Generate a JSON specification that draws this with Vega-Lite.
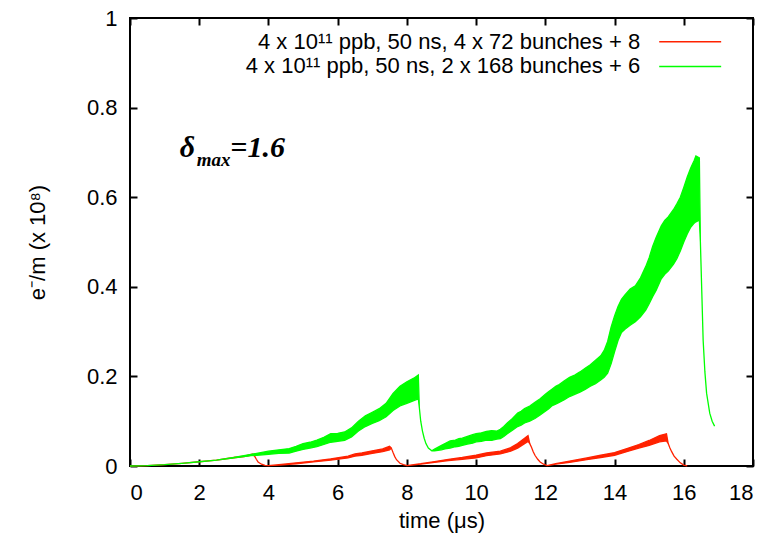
{
  "$schema": "https://vega.github.io/schema/vega-lite/v6.json",
  "width": 623,
  "height": 448,
  "autosize": {"type": "none"},
  "padding": {"left": 130, "top": 18, "right": 24, "bottom": 77},
  "background": "white",
  "config": {
    "view": {"stroke": "black", "strokeWidth": 2},
    "font": "Liberation Sans",
    "axis": {
      "domain": false,
      "grid": false,
      "tickColor": "black",
      "tickWidth": 2,
      "tickSize": -7,
      "labelFont": "Liberation Sans",
      "labelFontSize": 22,
      "labelColor": "black",
      "titleFont": "Liberation Sans",
      "titleFontSize": 22,
      "titleFontWeight": "normal",
      "titleColor": "black"
    }
  },
  "datasets": {
    "red": [
      {"t": 0, "lo": 0, "hi": 0},
      {"t": 0.5, "lo": 0.001, "hi": 0.001},
      {"t": 1, "lo": 0.003, "hi": 0.003},
      {"t": 1.5, "lo": 0.006, "hi": 0.006},
      {"t": 2, "lo": 0.0095, "hi": 0.0095},
      {"t": 2.5, "lo": 0.013, "hi": 0.013},
      {"t": 3, "lo": 0.018, "hi": 0.019},
      {"t": 3.3, "lo": 0.021, "hi": 0.022},
      {"t": 3.55, "lo": 0.025, "hi": 0.027},
      {"t": 3.6, "lo": 0.022, "hi": 0.022},
      {"t": 3.65, "lo": 0.015, "hi": 0.015},
      {"t": 3.7, "lo": 0.009, "hi": 0.009},
      {"t": 3.8, "lo": 0.004, "hi": 0.004},
      {"t": 3.9, "lo": 0.0015, "hi": 0.0015},
      {"t": 4.0, "lo": 0.001, "hi": 0.001},
      {"t": 4.3, "lo": 0.002, "hi": 0.003},
      {"t": 4.8, "lo": 0.005, "hi": 0.007},
      {"t": 5.3, "lo": 0.009, "hi": 0.011},
      {"t": 5.8, "lo": 0.013, "hi": 0.016},
      {"t": 6.3, "lo": 0.018, "hi": 0.022},
      {"t": 6.5, "lo": 0.022, "hi": 0.027},
      {"t": 6.7, "lo": 0.024, "hi": 0.029},
      {"t": 7.0, "lo": 0.028, "hi": 0.034},
      {"t": 7.3, "lo": 0.032, "hi": 0.038},
      {"t": 7.5, "lo": 0.036, "hi": 0.044},
      {"t": 7.55, "lo": 0.04, "hi": 0.04},
      {"t": 7.6, "lo": 0.03, "hi": 0.03},
      {"t": 7.65, "lo": 0.021, "hi": 0.021},
      {"t": 7.7, "lo": 0.014, "hi": 0.014},
      {"t": 7.8, "lo": 0.006, "hi": 0.006},
      {"t": 7.9, "lo": 0.003, "hi": 0.003},
      {"t": 8.0, "lo": 0.001, "hi": 0.001},
      {"t": 8.4, "lo": 0.004, "hi": 0.005},
      {"t": 8.8, "lo": 0.008, "hi": 0.01},
      {"t": 9.2, "lo": 0.012, "hi": 0.015},
      {"t": 9.6, "lo": 0.015, "hi": 0.019},
      {"t": 10.0, "lo": 0.018, "hi": 0.024},
      {"t": 10.3, "lo": 0.023, "hi": 0.029},
      {"t": 10.7, "lo": 0.027, "hi": 0.033},
      {"t": 11.0, "lo": 0.033, "hi": 0.041},
      {"t": 11.2, "lo": 0.04, "hi": 0.05},
      {"t": 11.4, "lo": 0.05, "hi": 0.062},
      {"t": 11.5, "lo": 0.055, "hi": 0.068},
      {"t": 11.55, "lo": 0.05, "hi": 0.05},
      {"t": 11.6, "lo": 0.042, "hi": 0.042},
      {"t": 11.65, "lo": 0.032, "hi": 0.032},
      {"t": 11.7, "lo": 0.024, "hi": 0.024},
      {"t": 11.78, "lo": 0.015, "hi": 0.015},
      {"t": 11.85, "lo": 0.009, "hi": 0.009},
      {"t": 11.95, "lo": 0.004, "hi": 0.004},
      {"t": 12.05, "lo": 0.001, "hi": 0.001},
      {"t": 12.3, "lo": 0.004, "hi": 0.005},
      {"t": 12.7, "lo": 0.008, "hi": 0.011},
      {"t": 13.2, "lo": 0.014, "hi": 0.018},
      {"t": 13.6, "lo": 0.019, "hi": 0.024},
      {"t": 14.0, "lo": 0.024, "hi": 0.03},
      {"t": 14.4, "lo": 0.033, "hi": 0.04},
      {"t": 14.7, "lo": 0.04, "hi": 0.048},
      {"t": 15.0, "lo": 0.046, "hi": 0.057},
      {"t": 15.3, "lo": 0.054, "hi": 0.068},
      {"t": 15.5, "lo": 0.056, "hi": 0.072},
      {"t": 15.55, "lo": 0.05, "hi": 0.05},
      {"t": 15.6, "lo": 0.04, "hi": 0.04},
      {"t": 15.65, "lo": 0.032, "hi": 0.032},
      {"t": 15.72, "lo": 0.022, "hi": 0.022},
      {"t": 15.8, "lo": 0.015, "hi": 0.015},
      {"t": 15.9, "lo": 0.007, "hi": 0.007},
      {"t": 16.0, "lo": 0.002, "hi": 0.002},
      {"t": 16.1, "lo": 0.0005, "hi": 0.0005}
    ],
    "green": [
      {"t": 0, "lo": 0, "hi": 0},
      {"t": 0.5, "lo": 0.001, "hi": 0.001},
      {"t": 1, "lo": 0.003, "hi": 0.003},
      {"t": 1.5, "lo": 0.006, "hi": 0.006},
      {"t": 2, "lo": 0.0095, "hi": 0.0095},
      {"t": 2.5, "lo": 0.013, "hi": 0.013},
      {"t": 3, "lo": 0.018, "hi": 0.019},
      {"t": 3.5, "lo": 0.023, "hi": 0.026},
      {"t": 4.0, "lo": 0.026, "hi": 0.033},
      {"t": 4.3, "lo": 0.028, "hi": 0.036},
      {"t": 4.6, "lo": 0.029, "hi": 0.039},
      {"t": 4.8, "lo": 0.033, "hi": 0.044},
      {"t": 5.0, "lo": 0.037, "hi": 0.05},
      {"t": 5.2, "lo": 0.04, "hi": 0.053},
      {"t": 5.4, "lo": 0.043, "hi": 0.058},
      {"t": 5.6, "lo": 0.048, "hi": 0.064},
      {"t": 5.8, "lo": 0.053, "hi": 0.072},
      {"t": 6.0, "lo": 0.055, "hi": 0.073},
      {"t": 6.2, "lo": 0.057, "hi": 0.076},
      {"t": 6.4, "lo": 0.065, "hi": 0.085},
      {"t": 6.6, "lo": 0.078, "hi": 0.1},
      {"t": 6.8, "lo": 0.088, "hi": 0.112},
      {"t": 7.0, "lo": 0.095, "hi": 0.12},
      {"t": 7.2, "lo": 0.101, "hi": 0.128},
      {"t": 7.4, "lo": 0.11, "hi": 0.14},
      {"t": 7.6, "lo": 0.124, "hi": 0.162},
      {"t": 7.8, "lo": 0.134, "hi": 0.178},
      {"t": 8.0, "lo": 0.14, "hi": 0.188},
      {"t": 8.2, "lo": 0.146, "hi": 0.196},
      {"t": 8.33, "lo": 0.15, "hi": 0.203},
      {"t": 8.36, "lo": 0.13, "hi": 0.13},
      {"t": 8.4, "lo": 0.1, "hi": 0.1},
      {"t": 8.45, "lo": 0.078, "hi": 0.078},
      {"t": 8.5, "lo": 0.062, "hi": 0.062},
      {"t": 8.55, "lo": 0.05, "hi": 0.05},
      {"t": 8.62, "lo": 0.04, "hi": 0.04},
      {"t": 8.72, "lo": 0.034, "hi": 0.034},
      {"t": 8.8, "lo": 0.034, "hi": 0.038},
      {"t": 9.0, "lo": 0.036, "hi": 0.046},
      {"t": 9.1, "lo": 0.038, "hi": 0.05},
      {"t": 9.25, "lo": 0.04, "hi": 0.056},
      {"t": 9.4, "lo": 0.043, "hi": 0.058},
      {"t": 9.5, "lo": 0.044, "hi": 0.061},
      {"t": 9.6, "lo": 0.046, "hi": 0.062},
      {"t": 9.75, "lo": 0.049, "hi": 0.066},
      {"t": 9.9, "lo": 0.051, "hi": 0.07},
      {"t": 10.0, "lo": 0.054, "hi": 0.072},
      {"t": 10.15, "lo": 0.055, "hi": 0.074},
      {"t": 10.3, "lo": 0.058, "hi": 0.077},
      {"t": 10.45, "lo": 0.057, "hi": 0.079},
      {"t": 10.6, "lo": 0.06, "hi": 0.078},
      {"t": 10.7, "lo": 0.061, "hi": 0.082},
      {"t": 10.8, "lo": 0.066, "hi": 0.088},
      {"t": 10.9, "lo": 0.072, "hi": 0.096},
      {"t": 11.05, "lo": 0.08, "hi": 0.106},
      {"t": 11.2, "lo": 0.088, "hi": 0.118},
      {"t": 11.3, "lo": 0.091, "hi": 0.122},
      {"t": 11.4, "lo": 0.096, "hi": 0.128},
      {"t": 11.55, "lo": 0.1, "hi": 0.134},
      {"t": 11.7, "lo": 0.106, "hi": 0.142},
      {"t": 11.85, "lo": 0.114, "hi": 0.15},
      {"t": 12.0, "lo": 0.122, "hi": 0.16},
      {"t": 12.1, "lo": 0.128, "hi": 0.166},
      {"t": 12.2, "lo": 0.135, "hi": 0.172},
      {"t": 12.3, "lo": 0.138, "hi": 0.178},
      {"t": 12.4, "lo": 0.142, "hi": 0.182},
      {"t": 12.55, "lo": 0.148, "hi": 0.19},
      {"t": 12.7, "lo": 0.155, "hi": 0.198},
      {"t": 12.85, "lo": 0.16, "hi": 0.203},
      {"t": 13.0, "lo": 0.165, "hi": 0.21},
      {"t": 13.15, "lo": 0.171, "hi": 0.218},
      {"t": 13.3, "lo": 0.178, "hi": 0.226},
      {"t": 13.45, "lo": 0.184, "hi": 0.236},
      {"t": 13.6, "lo": 0.192, "hi": 0.246},
      {"t": 13.7, "lo": 0.198, "hi": 0.258},
      {"t": 13.8, "lo": 0.207, "hi": 0.278},
      {"t": 13.9, "lo": 0.228, "hi": 0.31},
      {"t": 14.0, "lo": 0.255, "hi": 0.335},
      {"t": 14.1, "lo": 0.28, "hi": 0.356},
      {"t": 14.2, "lo": 0.298, "hi": 0.372},
      {"t": 14.3, "lo": 0.305, "hi": 0.382},
      {"t": 14.45, "lo": 0.314, "hi": 0.395},
      {"t": 14.6, "lo": 0.322, "hi": 0.402},
      {"t": 14.75, "lo": 0.333, "hi": 0.42},
      {"t": 14.9, "lo": 0.348, "hi": 0.445},
      {"t": 15.0, "lo": 0.362, "hi": 0.465},
      {"t": 15.1, "lo": 0.378, "hi": 0.49},
      {"t": 15.2, "lo": 0.392, "hi": 0.51},
      {"t": 15.35, "lo": 0.418, "hi": 0.536},
      {"t": 15.45, "lo": 0.428, "hi": 0.548},
      {"t": 15.55, "lo": 0.435, "hi": 0.556},
      {"t": 15.7, "lo": 0.45, "hi": 0.572},
      {"t": 15.8, "lo": 0.463, "hi": 0.585},
      {"t": 15.9, "lo": 0.48, "hi": 0.6},
      {"t": 16.0, "lo": 0.5, "hi": 0.622},
      {"t": 16.1, "lo": 0.518, "hi": 0.645},
      {"t": 16.2, "lo": 0.533, "hi": 0.665},
      {"t": 16.3, "lo": 0.542, "hi": 0.682},
      {"t": 16.35, "lo": 0.545, "hi": 0.692},
      {"t": 16.45, "lo": 0.549, "hi": 0.688},
      {"t": 16.48, "lo": 0.5, "hi": 0.5},
      {"t": 16.52, "lo": 0.39, "hi": 0.39},
      {"t": 16.56, "lo": 0.28, "hi": 0.28},
      {"t": 16.61, "lo": 0.21, "hi": 0.21},
      {"t": 16.66, "lo": 0.162, "hi": 0.162},
      {"t": 16.75, "lo": 0.118, "hi": 0.118},
      {"t": 16.82, "lo": 0.1, "hi": 0.1},
      {"t": 16.89, "lo": 0.089, "hi": 0.089}
    ],
    "one": [{}]
  },
  "resolve": {"axis": {"x": "independent", "y": "independent"}},
  "layer": [
    {
      "data": {"name": "red"},
      "mark": {"type": "area", "color": "#ff2200", "stroke": "#ff2200", "strokeWidth": 1.3},
      "encoding": {
        "x": {
          "field": "t", "type": "quantitative",
          "scale": {"domain": [0, 18], "nice": false},
          "axis": {"orient": "bottom", "values": [0, 2, 4, 6, 8, 10, 12, 14, 16, 18], "labelPadding": 23, "title": "time (μs)", "titlePadding": 7}
        },
        "y": {
          "field": "lo", "type": "quantitative",
          "scale": {"domain": [0, 1], "nice": false},
          "axis": {"orient": "left", "values": [0, 0.2, 0.4, 0.6, 0.8, 1], "format": "~g", "labelPadding": 20, "title": "e⁻/m (x 10⁸)", "titlePadding": 37}
        },
        "y2": {"field": "hi"}
      }
    },
    {
      "data": {"name": "green"},
      "mark": {"type": "area", "color": "#00ff00", "stroke": "#00ff00", "strokeWidth": 1.3},
      "encoding": {
        "x": {"field": "t", "type": "quantitative", "scale": {"domain": [0, 18], "nice": false}, "axis": null},
        "y": {"field": "lo", "type": "quantitative", "scale": {"domain": [0, 1], "nice": false}, "axis": null},
        "y2": {"field": "hi"}
      }
    },
    {
      "data": {"name": "red"},
      "mark": {"type": "point", "opacity": 0},
      "encoding": {
        "x": {
          "field": "t", "type": "quantitative", "scale": {"domain": [0, 18], "nice": false},
          "axis": {"orient": "top", "values": [0, 2, 4, 6, 8, 10, 12, 14, 16, 18], "labels": false, "title": null}
        },
        "y": {
          "field": "lo", "type": "quantitative", "scale": {"domain": [0, 1], "nice": false},
          "axis": {"orient": "right", "values": [0, 0.2, 0.4, 0.6, 0.8, 1], "labels": false, "title": null}
        }
      }
    },
    {
      "data": {"name": "one"},
      "mark": {"type": "text", "align": "right", "baseline": "middle", "fontSize": 22, "font": "Liberation Sans", "color": "black"},
      "encoding": {
        "x": {"datum": 14.74, "type": "quantitative", "axis": null},
        "y": {"datum": 0.947, "type": "quantitative", "axis": null},
        "text": {"value": "4 x 10¹¹ ppb, 50 ns, 4 x 72 bunches + 8"}
      }
    },
    {
      "data": {"name": "one"},
      "mark": {"type": "text", "align": "right", "baseline": "middle", "fontSize": 22, "font": "Liberation Sans", "color": "black"},
      "encoding": {
        "x": {"datum": 14.74, "type": "quantitative", "axis": null},
        "y": {"datum": 0.892, "type": "quantitative", "axis": null},
        "text": {"value": "4 x 10¹¹ ppb, 50 ns, 2 x 168 bunches + 6"}
      }
    },
    {
      "data": {"name": "one"},
      "mark": {"type": "rule", "color": "#ff2200", "strokeWidth": 1.5},
      "encoding": {
        "x": {"datum": 15.29, "type": "quantitative", "axis": null},
        "x2": {"datum": 17.08},
        "y": {"datum": 0.947, "type": "quantitative", "axis": null}
      }
    },
    {
      "data": {"name": "one"},
      "mark": {"type": "rule", "color": "#00ff00", "strokeWidth": 1.5},
      "encoding": {
        "x": {"datum": 15.29, "type": "quantitative", "axis": null},
        "x2": {"datum": 17.08},
        "y": {"datum": 0.892, "type": "quantitative", "axis": null}
      }
    },
    {
      "data": {"name": "one"},
      "mark": {"type": "text", "align": "left", "baseline": "alphabetic", "fontSize": 30, "font": "Liberation Serif", "fontWeight": "bold", "fontStyle": "italic", "color": "black"},
      "encoding": {
        "x": {"datum": 1.44, "type": "quantitative", "axis": null},
        "y": {"datum": 0.69, "type": "quantitative", "axis": null},
        "text": {"value": "δ"}
      }
    },
    {
      "data": {"name": "one"},
      "mark": {"type": "text", "align": "left", "baseline": "alphabetic", "fontSize": 19, "font": "Liberation Serif", "fontWeight": "bold", "fontStyle": "italic", "color": "black"},
      "encoding": {
        "x": {"datum": 1.93, "type": "quantitative", "axis": null},
        "y": {"datum": 0.67, "type": "quantitative", "axis": null},
        "text": {"value": "max"}
      }
    },
    {
      "data": {"name": "one"},
      "mark": {"type": "text", "align": "left", "baseline": "alphabetic", "fontSize": 30, "font": "Liberation Serif", "fontWeight": "bold", "fontStyle": "italic", "color": "black"},
      "encoding": {
        "x": {"datum": 2.9, "type": "quantitative", "axis": null},
        "y": {"datum": 0.69, "type": "quantitative", "axis": null},
        "text": {"value": "=1.6"}
      }
    }
  ]
}
